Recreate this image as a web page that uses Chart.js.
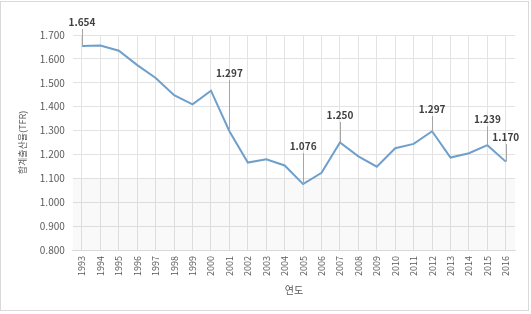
<!DOCTYPE html>
<html>
<head>
<meta charset="utf-8">
<script src="https://cdn.jsdelivr.net/npm/chart.js@4"></script>
<style>
  html, body { margin: 0; padding: 0; background: #fff; }
  #wrap { position: relative; width: 527px; height: 308px; border: 1px solid #d9d9d9; margin: 1px 0 0 0; }
</style>
</head>
<body>
<div id="wrap"><canvas id="chart"></canvas></div>
<script>
const years = ["1993","1994","1995","1996","1997","1998","1999","2000","2001","2002","2003","2004",
  "2005","2006","2007","2008","2009","2010","2011","2012","2013","2014","2015","2016"];
const tfr = [1.654, 1.656, 1.634, 1.574, 1.520, 1.448, 1.410, 1.467, 1.297, 1.166, 1.180, 1.154,
  1.076, 1.123, 1.250, 1.192, 1.149, 1.226, 1.244, 1.297, 1.187, 1.205, 1.239, 1.170];
// 값 표시할 연도와 라벨 높이(값 기준)
const labelYears = ["1993", "2001", "2005", "2007", "2012", "2015", "2016"];
const labelAt = [1.75, 1.537, 1.231, 1.361, 1.386, 1.344, 1.269];
const bandFrom = 0.8, bandTo = 1.1;

const font = "'Noto Sans CJK KR', 'Noto Sans', sans-serif";

const bandPlugin = {
  id: "band",
  beforeDatasetsDraw(chart) {
    const { ctx, chartArea, scales } = chart;
    const top = scales.y.getPixelForValue(bandTo);
    const bottom = scales.y.getPixelForValue(bandFrom);
    ctx.save();
    ctx.fillStyle = "rgba(0,0,0,0.025)";
    ctx.fillRect(chartArea.left, top, chartArea.right - chartArea.left, bottom - top);
    ctx.restore();
  }
};

const calloutPlugin = {
  id: "callouts",
  afterDatasetsDraw(chart) {
    const { ctx, scales } = chart;
    ctx.save();
    labelYears.forEach((yr, i) => {
      const idx = years.indexOf(yr);
      const x = scales.x.getPixelForValue(idx);
      const yPt = scales.y.getPixelForValue(tfr[idx]);
      const yLab = scales.y.getPixelForValue(labelAt[i]);
      ctx.strokeStyle = "#a6a6a6";
      ctx.lineWidth = 1;
      ctx.beginPath();
      ctx.moveTo(Math.round(x) + 0.5, yPt);
      ctx.lineTo(Math.round(x) + 0.5, yLab + 6);
      ctx.stroke();
      ctx.fillStyle = "#404040";
      ctx.font = "bold 10px " + font;
      ctx.textAlign = "center";
      ctx.textBaseline = "bottom";
      ctx.fillText(tfr[idx].toFixed(3), x, yLab + 4);
    });
    ctx.restore();
  }
};

new Chart(document.getElementById("chart"), {
  type: "line",
  data: {
    labels: years,
    datasets: [{
      data: tfr,
      borderColor: "#6f9fcb",
      borderWidth: 2,
      pointRadius: 0,
      tension: 0,
      fill: false
    }]
  },
  options: {
    responsive: true,
    maintainAspectRatio: false,
    animation: false,
    layout: { padding: { top: 33, right: 13, left: 12, bottom: 10 } },
    plugins: { legend: { display: false }, tooltip: { enabled: false } },
    scales: {
      x: {
        offset: true,
        grid: { color: "#e3e3e3", drawTicks: false, offset: false },
        border: { color: "#d9d9d9" },
        ticks: { color: "#595959", font: { family: font, size: 9 }, maxRotation: 90, minRotation: 90, padding: 6 },
        title: { display: true, text: "연도", color: "#595959", font: { family: font, size: 10 }, padding: { top: 2 } }
      },
      y: {
        min: 0.8,
        max: 1.7,
        grid: { color: "#e3e3e3", drawTicks: false },
        border: { display: false },
        ticks: {
          stepSize: 0.1,
          color: "#595959",
          font: { family: font, size: 10 },
          padding: 8,
          callback: v => Number(v).toFixed(3)
        },
        title: { display: true, text: "합계출산율(TFR)", color: "#595959", font: { family: font, size: 9 }, padding: { bottom: 4 } }
      }
    }
  },
  plugins: [bandPlugin, calloutPlugin]
});
</script>
</body>
</html>
